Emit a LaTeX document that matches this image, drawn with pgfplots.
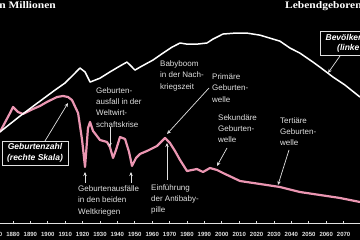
\documentclass[border=0pt]{standalone}
\usepackage{fontspec}
\setmainfont{Liberation Sans}
\newfontfamily\serifb{Liberation Serif}
\usepackage{pgfplots}
\pgfplotsset{compat=1.18}
\usetikzlibrary{arrows.meta}
\definecolor{pinkline}{RGB}{235,150,178}
\definecolor{annot}{RGB}{225,225,225}
\begin{document}
\begin{tikzpicture}[x=1pt,y=1pt]
\useasboundingbox (0,0) rectangle (360,240);
\clip (0,0) rectangle (360,240);
\fill[black] (0,0) rectangle (360,240);
% births (right scale, thousands)
\begin{axis}[at={(-21.8pt,17pt)},anchor=south west,scale only axis,width=382.8pt,height=223pt,
  xmin=1860,xmax=2080,ymin=0,ymax=3512,axis lines=none,clip=false]
\addplot[pinkline,line width=2.2pt,line join=round] coordinates {
(1872.5,1433)(1878.3,1732)(1880,1827)(1882.9,1748)(1885.7,1717)(1891.5,1795)(1895.5,1843)
(1899.5,1906)(1905.3,1984)(1908.7,2000)(1911.6,1984)(1913.9,1937)(1917.4,1732)(1919.7,1307)
(1921.4,882)(1923.1,1496)(1924.3,1591)(1926,1449)(1930,1307)(1934,1276)(1935.7,1197)
(1937.5,1024)(1939.2,1150)(1941.5,1354)(1944.4,1323)(1946.7,1118)(1948.4,898)(1950.7,1024)
(1953,1087)(1957,1134)(1962.8,1213)(1967.4,1339)(1970.2,1260)(1973.1,1134)(1976,992)
(1980,819)(1982.9,835)(1985.7,850)(1989.2,803)(1993.2,866)(1997.2,835)(2000.7,787)
(2010.5,661)(2022,614)(2033.4,567)(2044.9,488)(2056.4,441)(2067.9,394)(2079.4,331)};
\end{axis}
% population (left scale, millions)
\begin{axis}[at={(-21.8pt,17pt)},anchor=south west,scale only axis,width=382.8pt,height=223pt,
  xmin=1860,xmax=2080,ymin=0,ymax=97,
  axis x line*=bottom, axis y line=none,
  x axis line style={draw=annot,-,line width=0.8pt},
  xtick={1870,1880,...,2070},
  xticklabel style={font=\fontsize{6}{6}\selectfont\bfseries,text=annot,anchor=base,yshift=-12pt},
  /pgf/number format/1000 sep={},
  /pgf/number format/assume math mode=true,
  tick style={draw=annot,line width=0.6pt},
  major tick length=3pt, tick align=center,clip=false]
\addplot[white,line width=1.5pt,line join=round] coordinates {
(1872.5,39.6)(1884,46.5)(1895.5,53.0)(1904.1,57.8)(1909.9,60.9)(1913.9,63.9)(1918.5,67.4)(1921.4,65.7)
(1924.3,61.3)(1930,63.0)(1935.7,65.7)(1941.5,68.3)(1945.5,70.0)(1947.8,68.3)(1950.1,66.5)
(1953,67.8)(1960.5,70.9)(1966.2,73.9)(1971.4,76.5)(1976,78.3)(1980,77.8)(1985.7,77.8)
(1991.5,78.3)(1994.9,80.0)(2000.7,82.2)(2007.6,82.6)(2014.5,82.6)(2022,81.7)(2027.7,80.4)
(2033.4,79.1)(2039.2,76.1)(2044.9,73.9)(2052.4,70.0)(2056.4,67.8)(2063.9,63.5)(2070.8,60.0)
(2079.4,54.8)};
\end{axis}
% titles
\node[anchor=base east,font=\serifb\bfseries\fontsize{10}{12}\selectfont,text=white,inner sep=0] at (56,231) {\scalebox{1.15}[1]{Bevölkerung in Millionen}};
\node[anchor=base west,font=\serifb\bfseries\fontsize{10}{12}\selectfont,text=white,inner sep=0] at (285,231) {\scalebox{1.15}[1]{Lebendgeborene in Tausend}};
% annotations
\tikzset{ann/.style={anchor=north west,inner sep=0,align=left,text=annot,font=\fontsize{8}{11.3}\selectfont},
  arr/.style={draw=annot,line width=0.7pt,-{Stealth[length=4pt,width=3.5pt]}}}
\node[ann] at (160,179.3) {Babyboom\\in der Nach-\\kriegszeit};
\node[ann] at (96,152.8) {Geburten-\\ausfall in der\\Weltwirt-\\schaftskrise};
\node[ann] at (212,166.3) {Primäre\\Geburten-\\welle};
\node[ann] at (218,125.8) {Sekundäre\\Geburten-\\welle};
\node[ann] at (280,122.8) {Tertiäre\\Geburten-\\welle};
\node[ann] at (78,54.3) {Geburtenausfälle\\in den beiden\\Weltkriegen};
\node[ann] at (151,55.8) {Einführung\\der Antibaby-\\pille};
\draw[arr] (45,99) -- (68,137);
\draw[arr] (340,184) -- (328,167);
\draw[arr] (209,152) -- (167,106);
\draw[arr] (167,60) -- (167,97);
\draw[arr] (110,113) -- (110,93);
\draw[arr] (85,57) -- (85,68);
\draw[arr] (131,57) -- (131,68);
\draw[arr] (227,92) -- (217,74);
\draw[arr] (289,90) -- (278,55);
\node[draw=annot,line width=0.6pt,fill=black,text=white,align=center,inner sep=1pt,
  minimum width=66pt,minimum height=24pt,font=\bfseries\itshape\fontsize{8.5}{10.5}\selectfont] at (35,87) {Geburtenzahl\\(rechte Skala)};
\node[draw=annot,line width=0.6pt,fill=black,text=white,align=center,inner sep=1pt,
  minimum width=84pt,minimum height=24pt,font=\bfseries\itshape\fontsize{8.5}{10.5}\selectfont] at (362,196.5) {Bevölkerungszahl\\(linke Skala)};
\end{tikzpicture}
\end{document}
